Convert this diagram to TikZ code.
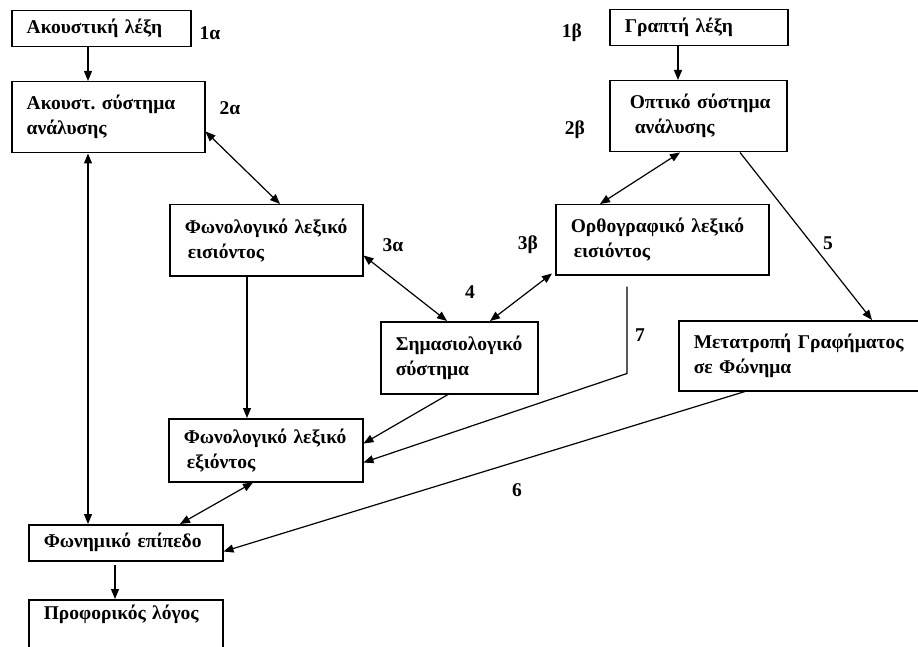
\documentclass[tikz,border=0pt]{standalone}
\usepackage{fontspec}
\setmainfont{Liberation Serif}
\usetikzlibrary{arrows.meta,positioning}

\begin{document}
\begin{tikzpicture}[x=1pt,y=-1pt,>={Triangle[length=10pt,width=8pt]},line width=1.2pt,
  box/.style={draw,line width=1.5pt,anchor=north west,align=left,inner xsep=15pt,inner ysep=0pt,
    font=\fontsize{19.5}{25}\selectfont\bfseries},
  num/.style={font=\fontsize{19.5}{22}\selectfont\bfseries,inner sep=0pt}]
  \useasboundingbox (0,0) rectangle (918,647);
  \clip (0,0) rectangle (918,647);

  \node[box,text width=149pt,minimum height=36pt] (akl) at (11,10)  {Ακουστική λέξη};
  \node[box,text width=163pt,minimum height=71pt] (aks) at (11,81)  {Ακουστ.\ σύστημα\\ανάλυσης};
  \node[box,text width=148pt,minimum height=36pt] (grl) at (609,9)  {Γραπτή λέξη};
  \node[box,text width=147pt,minimum height=71pt] (ops) at (609,80) {\hspace{5pt}Οπτικό σύστημα\\\hspace{10pt}ανάλυσης};
  \node[box,text width=163pt,minimum height=71pt] (fle) at (169,204) {Φωνολογικό λεξικό\\\hspace{3pt}εισιόντος};
  \node[box,text width=183pt,minimum height=70pt] (orl) at (555,204) {Ορθογραφικό λεξικό\\\hspace{3pt}εισιόντος};
  \node[box,text width=127pt,minimum height=72pt] (sim) at (380,321) {Σημασιολογικό\\σύστημα};
  \node[box,text width=212pt,minimum height=70pt] (mgf) at (678,320) {Μετατροπή Γραφήματος\\σε Φώνημα};
  \node[box,text width=164pt,minimum height=63pt] (flx) at (168,418) {Φωνολογικό λεξικό\\\hspace{3pt}εξιόντος};
  \node[box,text width=164pt,minimum height=36pt] (fep) at (28,524)  {Φωνημικό επίπεδο};
  \node[box,text width=164pt,text height=20pt,text depth=40pt] (prl) at (28,599) {Προφορικός λόγος};

  \node[num] (n1a) at (210,33)  {1α};
  \node[num] (n1b) at (572,33)  {1β};
  \node[num] (n2a) at (230,108) {2α};
  \node[num] (n2b) at (575,130) {2β};
  \node[num] (n3a) at (393,245) {3α};
  \node[num] (n3b) at (528,245) {3β};
  \node[num] (n4)  at (470,292) {4};
  \node[num] (n5)  at (828,243) {5};
  \node[num] (n6)  at (517,490) {6};
  \node[num] (n7)  at (640,335) {7};

  \coordinate (k7a) at ([shift={(72pt,-11pt)}]orl.south west);
  \coordinate (k7b) at ([shift={(72pt,-98pt)}]orl.south west);

\tikzset{onearrow/.style={->}}
\tikzset{twoarrow/.style={<->}}
\path ([xshift=77pt]akl.south west)  edge [onearrow] ([xshift=77pt]aks.north west)
      ([xshift=69pt]grl.south west)  edge [onearrow] ([xshift=69pt]ops.north west)
      ([yshift=22pt]aks.south east)  edge [twoarrow] ([xshift=111pt]fle.north west)
      ([xshift=71pt]ops.south west)  edge [twoarrow] ([xshift=45pt]orl.north west)
      ([yshift=21pt]fle.south east)  edge [twoarrow] ([xshift=67pt]sim.north west)
      ([shift={(-3pt,2pt)}]orl.south west) edge [twoarrow] ([xshift=110pt]sim.north west)
      ([xshift=131pt]ops.south west) edge [onearrow] ([xshift=194pt]mgf.north west)
      ([xshift=78pt]fle.south west)  edge [onearrow] ([xshift=79pt]flx.north west)
      ([xshift=77pt]aks.south west)  edge [twoarrow] ([xshift=60pt]fep.north west)
      ([xshift=68pt]sim.south west)  edge [onearrow] ([yshift=39pt]flx.south east)
      ([xshift=67pt]mgf.south west)  edge [onearrow] ([yshift=10pt]fep.south east)
      ([xshift=85pt]flx.south west)  edge [twoarrow] ([xshift=152pt]fep.north west)
      ([shift={(87pt,-3pt)}]fep.south west) edge [onearrow] ([xshift=87pt]prl.north west);
\draw [onearrow] (k7a) -- (k7b) -- ([yshift=20pt]flx.south east);

\end{tikzpicture}
\end{document}
